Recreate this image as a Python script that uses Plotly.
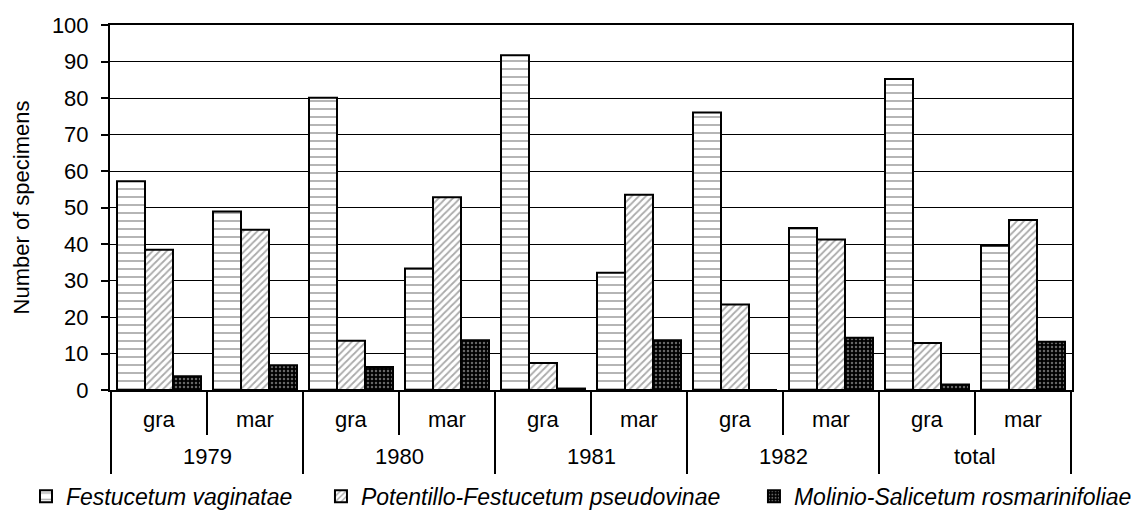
import plotly.graph_objects as go

years = ["1979", "1979", "1980", "1980", "1981", "1981", "1982", "1982", "total", "total"]
subs = ["gra", "mar", "gra", "mar", "gra", "mar", "gra", "mar", "gra", "mar"]

festucetum = [57.2, 48.9, 80.1, 33.3, 91.7, 32.1, 76.0, 44.4, 85.2, 39.5]
potentillo = [38.4, 43.9, 13.5, 52.8, 7.4, 53.5, 23.4, 41.2, 12.9, 46.6]
molinio = [3.8, 6.8, 6.3, 13.6, 0.4, 13.6, 0.0, 14.3, 1.5, 13.2]

names = ["Festucetum vaginatae", "Potentillo-Festucetum pseudovinae", "Molinio-Salicetum rosmarinifoliae"]

FONT = "Liberation Sans"

# unique category keys (one per year/sub pair)
cats = [f"{y} {s}" for y, s in zip(years, subs)]

fig = go.Figure()
fig.add_trace(go.Bar(
    x=cats, y=festucetum, name=names[0], legend="legend",
    marker=dict(color="white", line=dict(color="black", width=2),
                pattern=dict(shape="-", fgcolor="#555555", bgcolor="white", size=8, solidity=0.22)),
))
fig.add_trace(go.Bar(
    x=cats, y=potentillo, name=names[1], legend="legend2",
    marker=dict(color="white", line=dict(color="black", width=2),
                pattern=dict(shape="/", fgcolor="#555555", bgcolor="white", size=5, solidity=0.35)),
))
fig.add_trace(go.Bar(
    x=cats, y=molinio, name=names[2], legend="legend3",
    marker=dict(color="black", line=dict(color="black", width=2),
                pattern=dict(shape=".", fgcolor="#cccccc", bgcolor="black", size=4, solidity=0.3)),
))

# inner labels (gra / mar) under each category
annotations = []
for i, s in enumerate(subs):
    annotations.append(dict(x=i, xref="x", y=0, yref="paper", yshift=-29, yanchor="middle",
                            text=s, showarrow=False, font=dict(family=FONT, size=22, color="black")))

# outer labels (years) centred under their pair of categories, plus long dividers
groups = []
for i, y in enumerate(years):
    if not groups or groups[-1][0] != y:
        groups.append([y, i, i])
    else:
        groups[-1][2] = i

shapes = []
for y, first, last in groups:
    annotations.append(dict(x=(first + last) / 2, xref="x", y=0, yref="paper", yshift=-66,
                            yanchor="middle", text=y, showarrow=False,
                            font=dict(family=FONT, size=22, color="black")))
    shapes.append(dict(type="line", xref="x", yref="paper", x0=first - 0.5, x1=first - 0.5,
                       y0=0, y1=-84 / 365, line=dict(color="black", width=2)))
shapes.append(dict(type="line", xref="x", yref="paper", x0=groups[-1][2] + 0.5, x1=groups[-1][2] + 0.5,
                   y0=0, y1=-84 / 365, line=dict(color="black", width=2)))

leg_common = dict(orientation="h", xanchor="left", y=-0.291, yanchor="middle",
                  font=dict(family=FONT, size=23, style="italic"), bgcolor="rgba(0,0,0,0)")

fig.update_layout(
    width=1139, height=511,
    margin=dict(l=102, r=75, t=17, b=129, autoexpand=False),
    paper_bgcolor="white", plot_bgcolor="white",
    barmode="group", bargap=0.125, bargroupgap=0,
    font=dict(family=FONT, size=22, color="black"),
    showlegend=True,
    legend=dict(x=-0.0873, **leg_common),
    legend2=dict(x=0.2193, **leg_common),
    legend3=dict(x=0.6694, **leg_common),
    annotations=annotations,
    shapes=shapes,
    xaxis=dict(type="category", showline=True, linecolor="black", linewidth=2,
               mirror=True, ticks="outside", tickson="boundaries", tickcolor="black",
               ticklen=43, tickwidth=2, showticklabels=False, showgrid=False,
               automargin=False),
    yaxis=dict(range=[0, 100], dtick=10, showgrid=True, gridcolor="black", gridwidth=1,
               showline=True, linecolor="black", linewidth=2, mirror=True,
               ticks="outside", tickcolor="black", ticklen=7, tickwidth=1.5,
               ticklabelstandoff=8,
               title=dict(text="Number of specimens", font=dict(family=FONT, size=22), standoff=16),
               tickfont=dict(family=FONT, size=22), zeroline=False, automargin=False),
)

fig.write_html("out.html")
